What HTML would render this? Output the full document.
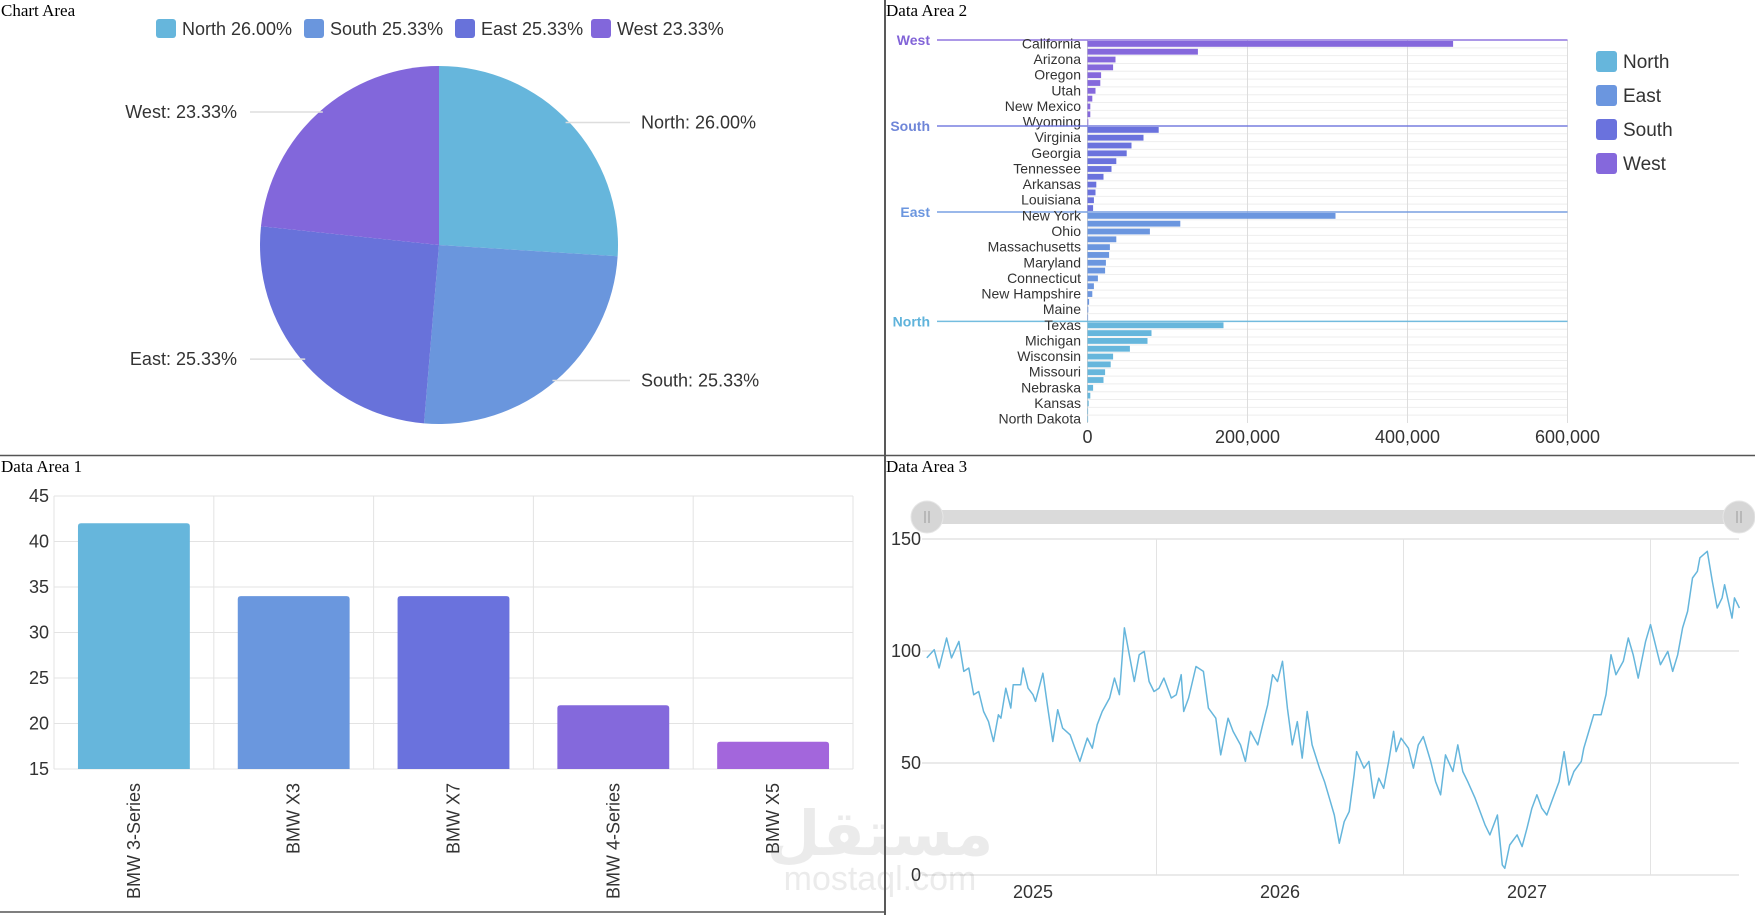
<!DOCTYPE html>
<html><head><meta charset="utf-8">
<style>
html,body{margin:0;padding:0;background:#fff;}
svg{display:block;}
.t{font-family:"Liberation Serif",serif;font-size:17px;fill:#000;}
.s{font-family:"Liberation Sans","DejaVu Sans",sans-serif;}
</style></head>
<body>
<svg id="root" width="1755" height="915" viewBox="0 0 1755 915" xmlns="http://www.w3.org/2000/svg">
  <line x1="885" y1="0" x2="885" y2="915" stroke="#222" stroke-width="1.5"/>
  <line x1="0" y1="455.5" x2="1755" y2="455.5" stroke="#555" stroke-width="1.5"/>
  <line x1="0" y1="912" x2="885" y2="912" stroke="#555" stroke-width="1.5"/>
  <text class="t" x="1" y="16">Chart Area</text>
  <text class="t" x="886" y="16">Data Area 2</text>
  <text class="t" x="1" y="472">Data Area 1</text>
  <text class="t" x="886" y="472">Data Area 3</text>
  <g id="pie"></g>
  <g id="hbar"></g>
  <g id="vbar"></g>
  <g id="line"></g>
  <g opacity="0.12">
    <text class="s" x="880" y="855" font-size="62" font-weight="bold" fill="#666" text-anchor="middle" font-family="'Liberation Sans','DejaVu Sans',sans-serif">مستقل</text>
    <text class="s" x="880" y="890" font-size="34" fill="#666" text-anchor="middle">mostaql.com</text>
  </g>
</svg>
<script>
const NS="http://www.w3.org/2000/svg";
function mk(tag,attrs,parent){const e=document.createElementNS(NS,tag);for(const k in attrs)e.setAttribute(k,attrs[k]);parent.appendChild(e);return e;}

// ===== Pie data =====
const pieLabels=["North","South","East","West"];
const pieValues=[26.00,25.33,25.33,23.33];
const pieColors=["#66b6dc","#6a96dd","#6872da","#8267db"];

// ===== State bar data =====
const groupNames=["West","South","East","North"];
const groupColors=["#8568dc","#6a72dd","#6b96df","#66b6dc"];
const groupLabelColors=["#8264d8","#6f86d8","#6b96df","#5fb3db"];
const stateNames=[
 ["California","Nevada","Arizona","Colorado","Oregon","Idaho","Utah","Montana","New Mexico","Alaska","Wyoming"],
 ["Florida","Virginia","North Carolina","Georgia","Alabama","Tennessee","South Carolina","Arkansas","Kentucky","Louisiana","Mississippi"],
 ["New York","Pennsylvania","Ohio","New Jersey","Massachusetts","Indiana","Maryland","Delaware","Connecticut","Rhode Island","New Hampshire","Vermont","Maine","West Virginia"],
 ["Texas","Illinois","Michigan","Minnesota","Wisconsin","Iowa","Missouri","Oklahoma","Nebraska","South Dakota","Kansas","Wyoming N","North Dakota"]
];
const stateValues=[
 [457000,138000,35000,32000,17000,16000,10000,6000,3500,3500,1000],
 [89000,70000,55000,49000,36000,30000,20000,11000,10000,8000,7000],
 [310000,116000,78000,36000,28000,27000,23000,22000,13000,8000,6000,2000,1000,300],
 [170000,80000,75000,53000,32000,29000,22000,20000,7000,3500,1500,700,300]
];
const hTicks=[0,200000,400000,600000];
const hTickLabels=["0","200,000","400,000","600,000"];

// ===== BMW bar data =====
const carNames=["BMW 3-Series","BMW X3","BMW X7","BMW 4-Series","BMW X5"];
const carValues=[42,34,34,22,18];
const carColors=["#66b6dc","#6a97de","#6a72dd","#8469dc","#a366dc"];
const vTicks=[15,20,25,30,35,40,45];

// ===== Time series data =====
const seriesDates=[2024.57,2024.60,2024.62,2024.65,2024.67,2024.70,2024.72,2024.74,2024.76,2024.78,2024.80,2024.82,2024.84,2024.86,2024.87,2024.89,2024.91,2024.92,2024.95,2024.96,2024.98,2025.00,2025.01,2025.04,2025.06,2025.08,2025.10,2025.12,2025.15,2025.17,2025.19,2025.22,2025.24,2025.26,2025.28,2025.31,2025.33,2025.35,2025.37,2025.39,2025.41,2025.43,2025.45,2025.47,2025.49,2025.51,2025.53,2025.56,2025.58,2025.60,2025.61,2025.63,2025.66,2025.69,2025.71,2025.74,2025.76,2025.79,2025.81,2025.84,2025.86,2025.88,2025.91,2025.93,2025.95,2025.97,2025.99,2026.01,2026.03,2026.05,2026.07,2026.09,2026.11,2026.13,2026.16,2026.18,2026.20,2026.22,2026.24,2026.26,2026.28,2026.30,2026.31,2026.34,2026.36,2026.38,2026.40,2026.42,2026.44,2026.46,2026.47,2026.49,2026.52,2026.54,2026.56,2026.58,2026.61,2026.63,2026.65,2026.67,2026.70,2026.72,2026.74,2026.76,2026.79,2026.81,2026.83,2026.85,2026.88,2026.90,2026.91,2026.93,2026.96,2026.98,2027.00,2027.02,2027.04,2027.06,2027.08,2027.10,2027.13,2027.15,2027.17,2027.19,2027.22,2027.23,2027.25,2027.27,2027.30,2027.32,2027.34,2027.36,2027.39,2027.41,2027.43,2027.45,2027.48,2027.50,2027.53,2027.54,2027.57,2027.59,2027.61,2027.63,2027.65,2027.67,2027.69,2027.70,2027.73,2027.75,2027.77,2027.79,2027.80,2027.83,2027.84,2027.86];
const seriesValues=[96.9,100.6,92.4,105.8,96.9,104.3,90.9,92.4,80.5,81.9,73.0,68.5,59.6,71.5,70.0,83.4,74.5,84.9,84.9,92.4,83.4,80.5,77.5,90.1,74.5,59.6,73.8,65.6,62.6,56.6,50.7,61.1,56.6,67.1,73.0,79.0,87.9,80.5,110.3,98.3,86.4,98.3,99.8,86.4,81.9,83.4,87.9,79.0,80.5,89.4,73.0,79.0,93.1,90.9,74.5,70.0,53.6,70.0,64.1,58.1,50.7,64.1,58.1,67.1,76.0,89.4,86.4,95.4,74.5,58.1,68.5,52.2,73.0,58.1,47.7,41.7,34.3,26.8,14.2,23.8,28.3,44.7,55.1,47.7,50.7,34.3,43.2,38.7,50.7,64.1,55.1,61.1,56.6,47.7,58.1,61.8,50.7,41.7,35.8,53.6,46.2,58.1,46.2,41.7,34.3,28.3,22.4,17.9,26.8,4.5,3.0,13.4,17.9,12.7,20.9,29.8,35.8,29.8,26.8,32.8,41.7,55.1,40.2,46.2,50.7,56.6,64.1,71.5,71.5,80.5,98.3,89.4,95.4,105.8,98.3,87.9,104.3,111.8,98.3,93.9,99.8,90.9,98.3,110.3,117.7,132.6,135.6,141.6,144.5,131.1,119.2,123.7,129.6,114.7,123.7,119.2];
const yTicks=[0,50,100,150];
const yearTicks=[2025,2026,2027];

const FONT='"Liberation Sans","DejaVu Sans",sans-serif';

// ===== Pie =====
(function(){
 const g=document.getElementById('pie');
 const cx=439,cy=245,r=179;
 const lx=[156,304,455,591];
 pieLabels.forEach((l,i)=>{
  const it=mk('g',{},g);
  
  
  mk('rect',{x:lx[i],y:19,width:20,height:19,rx:3,fill:pieColors[i]},it);
  const t=mk('text',{x:lx[i]+26,y:35,'font-size':18,fill:'#333','font-family':FONT},it);
  t.textContent=l+' '+pieValues[i].toFixed(2)+'%';
 });
 const total=pieValues.reduce((a,b)=>a+b,0);
 let a0=-Math.PI/2;
 pieValues.forEach((v,i)=>{
  const a1=a0+v/total*2*Math.PI;
  const x0=cx+r*Math.cos(a0),y0=cy+r*Math.sin(a0),x1=cx+r*Math.cos(a1),y1=cy+r*Math.sin(a1);
  const p=mk('path',{d:`M${cx},${cy}L${x0},${y0}A${r},${r} 0 ${a1-a0>Math.PI?1:0} 1 ${x1},${y1}Z`,fill:pieColors[i]},g);
  
  
  const am=(a0+a1)/2;
  const ly=cy+r*Math.sin(am);
  const right=Math.cos(am)>0;
  const lxx=right?630:250;
  const inner=cx+Math.sign(Math.cos(am))*Math.sqrt(Math.max(0,r*r-(ly-cy)*(ly-cy)))*0.97;
  const ln=mk('line',{x1:inner,y1:ly,x2:lxx,y2:ly,stroke:'#ddd','stroke-width':1.5},g);
  
  
  const t=mk('text',{x:right?lxx+11:lxx-13,y:ly+6,'font-size':18,fill:'#333','font-family':FONT,'text-anchor':right?'start':'end'},g);
  
  
  t.textContent=pieLabels[i]+': '+pieValues[i].toFixed(2)+'%';
  a0=a1;
 });
})();

// ===== Horizontal bars =====
(function(){
 const g=document.getElementById('hbar');
 const L=1087.5,R=1567.5,T=40,B=423;
 const nRows=stateValues.reduce((a,b)=>a+b.length,0);
 const rh=(B-T)/nRows;
 const xs=v=>L+v/600000*(R-L);
 for(let i=1;i<nRows;i++) mk('line',{x1:L,x2:R,y1:T+i*rh,y2:T+i*rh,stroke:'#eee','stroke-width':1},g);
 hTicks.forEach((v,i)=>{
  if(i>0) mk('line',{x1:xs(v),x2:xs(v),y1:T,y2:B,stroke:'#ddd','stroke-width':1},g);
  const t=mk('text',{x:xs(v),y:443,'font-size':18,fill:'#333','font-family':FONT,'text-anchor':'middle'},g);
  
  
  t.textContent=hTickLabels[i];
 });
 mk('line',{x1:L,x2:L,y1:T,y2:B,stroke:'#ccc','stroke-width':1},g);
 let row=0;
 stateValues.forEach((vals,gi)=>{
  const gy=T+row*rh;
  const gl=mk('line',{x1:937,x2:R,y1:gy,y2:gy,stroke:groupColors[gi],'stroke-width':1.5,opacity:0.9},g);
  
  
  const gt=mk('text',{x:930,y:gy+5,'font-size':14,'font-weight':'bold',fill:groupLabelColors[gi],'font-family':FONT,'text-anchor':'end'},g);
  
  
  gt.textContent=groupNames[gi];
  vals.forEach((v,j)=>{
   const y=T+row*rh;
   const b=mk('rect',{x:L,y:y+1,width:Math.max(0.6,xs(v)-L),height:rh-2,fill:groupColors[gi]},g);
   
   
   if(row%2===0){
    const t=mk('text',{x:1081,y:y+rh/2+4.5,'font-size':14,fill:'#333','font-family':FONT,'text-anchor':'end'},g);
    
    
    t.textContent=stateNames[gi][j];
   }
   row++;
  });
 });
 const legOrder=[3,2,1,0];
 legOrder.forEach((gi,k)=>{
  const it=mk('g',{},g);
  
  
  const y=51+k*34;
  mk('rect',{x:1596,y:y,width:21,height:21,rx:3,fill:groupColors[gi]},it);
  const t=mk('text',{x:1623,y:y+17,'font-size':19,fill:'#333','font-family':FONT},it);
  t.textContent=groupNames[gi];
 });
})();

// ===== Vertical bars =====
(function(){
 const g=document.getElementById('vbar');
 const L=54,R=853,T=496,B=769;
 const ys=v=>B-(v-15)/30*(B-T);
 const cw=(R-L)/carNames.length;
 vTicks.forEach(v=>{
  mk('line',{x1:L,x2:R,y1:ys(v),y2:ys(v),stroke:'#e3e3e3','stroke-width':1},g);
  const t=mk('text',{x:49,y:ys(v)+6,'font-size':18,fill:'#333','font-family':FONT,'text-anchor':'end'},g);
  
  
  t.textContent=v;
 });
 for(let i=0;i<=carNames.length;i++) mk('line',{x1:L+i*cw,x2:L+i*cw,y1:T,y2:B,stroke:'#e3e3e3','stroke-width':1},g);
 carNames.forEach((n,i)=>{
  const x=L+i*cw+cw*0.15,w=cw*0.7,y=ys(carValues[i]);
  const b=mk('path',{d:`M${x},${B}V${y+3}Q${x},${y} ${x+3},${y}H${x+w-3}Q${x+w},${y} ${x+w},${y+3}V${B}Z`,fill:carColors[i]},g);
  
  
  const cx=L+(i+0.5)*cw;
  const t=mk('text',{x:0,y:0,'font-size':18,fill:'#333','font-family':FONT,'text-anchor':'end',transform:`translate(${cx+6},783) rotate(-90)`},g);
  
  
  t.textContent=n;
 });
})();

// ===== Line chart =====
(function(){
 const g=document.getElementById('line');
 const xs=d=>1033+(d-2025)*247;
 const ys=v=>875-v*112/50;
 const L=922,R=1739;
 yTicks.forEach(v=>{
  mk('line',{x1:L,x2:R,y1:ys(v),y2:ys(v),stroke:'#e3e3e3','stroke-width':1.5},g);
  const t=mk('text',{x:921,y:ys(v)+6,'font-size':18,fill:'#333','font-family':FONT,'text-anchor':'end'},g);
  
  
  t.textContent=v;
 });
 yearTicks.forEach(yr=>{
  const gx=xs(yr+0.5);
  mk('line',{x1:gx,x2:gx,y1:ys(150),y2:ys(0),stroke:'#e3e3e3','stroke-width':1},g);
  const t=mk('text',{x:xs(yr),y:898,'font-size':18,fill:'#333','font-family':FONT,'text-anchor':'middle'},g);
  
  
  t.textContent=yr;
 });
 const d=seriesDates.map((t,i)=>(i?'L':'M')+xs(t).toFixed(1)+','+ys(seriesValues[i]).toFixed(1)).join('');
 const p=mk('path',{d:d,fill:'none',stroke:'#66b6dc','stroke-width':1.5,'stroke-linejoin':'round'},g);
 
 
 const tr=mk('rect',{x:927,y:510,width:812,height:14,fill:'#dadada'},g);
 
 
 [927,1739].forEach((hx,k)=>{
  const h=mk('g',{},g);
  
  
  mk('circle',{cx:hx,cy:517,r:16,fill:'#d6d6d6',stroke:'#e6e6e6'},h);
  mk('line',{x1:hx-2,x2:hx-2,y1:511,y2:523,stroke:'#999','stroke-width':1},h);
  mk('line',{x1:hx+2,x2:hx+2,y1:511,y2:523,stroke:'#999','stroke-width':1},h);
 });
})();
</script>
</body></html>
